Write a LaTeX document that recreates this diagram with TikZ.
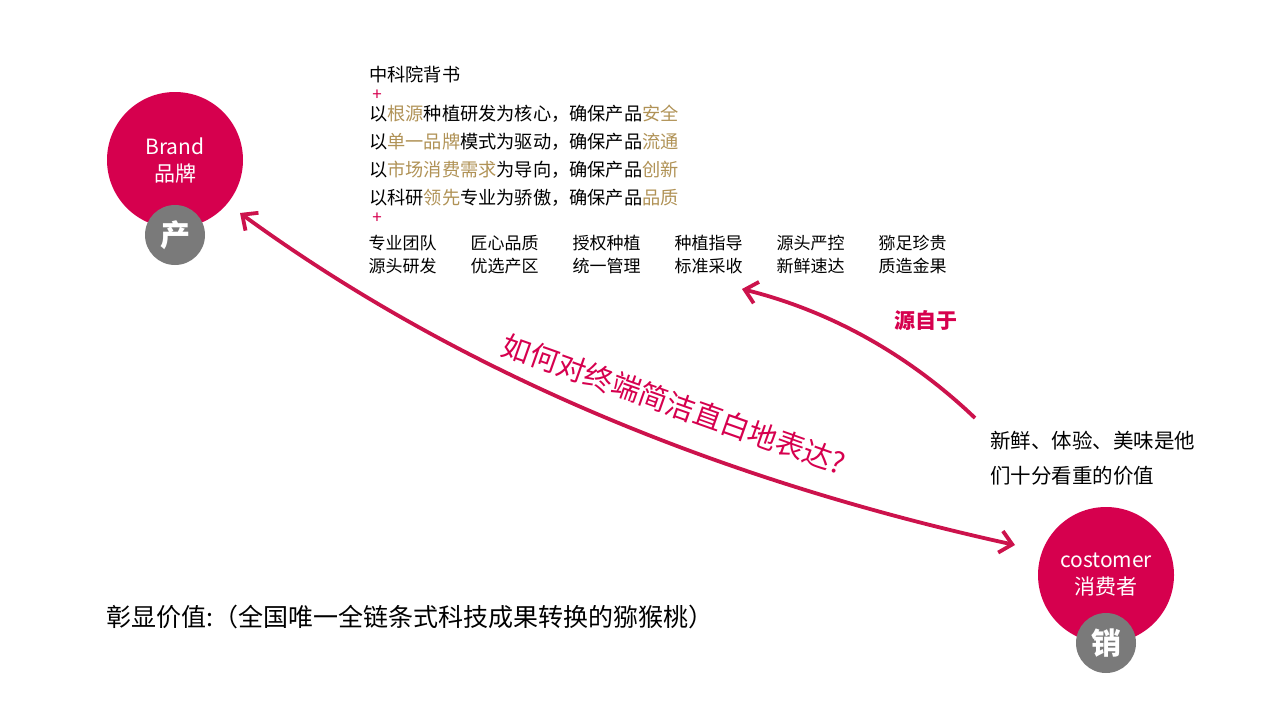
\documentclass[tikz,border=0pt]{standalone}
\usepackage{fontspec}
\setmainfont{Noto Sans CJK SC}
\usetikzlibrary{matrix}
\usetikzlibrary{positioning, arrows.meta}
\definecolor{crimson}{RGB}{214,0,78}
\definecolor{arrowred}{RGB}{204,18,76}
\definecolor{gold}{RGB}{176,146,86}
\definecolor{badge}{RGB}{122,122,122}
\newcommand{\hl}[1]{\textcolor{gold}{#1}}
\tikzset{
	bigdisc/.style={circle, fill=crimson, minimum size=136pt, inner sep=0pt, text=white, align=center, font=\fontsize{21}{27}\selectfont},
	badgedisc/.style={circle, fill=badge, minimum size=60pt, inner sep=0pt, text=white, font=\fontsize{30}{30}\selectfont\bfseries},
	bodyline/.style={anchor=west, inner sep=0pt, font=\fontsize{18.2}{18}\selectfont},
	plusline/.style={anchor=center, inner sep=0pt, text=crimson, font=\fontsize{17}{17}\selectfont},
	flowtip/.tip={Straight Barb[length=12pt,width=22pt]},
	flow/.style={draw=arrowred, line width=3.8pt}
}

\begin{document}
\begin{tikzpicture}[x=1pt, y=-1pt]
		\useasboundingbox (0,0) rectangle (1280,721);
		% circles
		\node[bigdisc] (brand) at (175,160) {Brand\\品牌};
		\node[badgedisc] (prod) at (175,235) {产};
		\node[bigdisc] (cust) at (1106,575) {costomer\\消费者};
		\node[badgedisc] (sell) at (1106,643) {销};
		% text block
		\node[bodyline] (cas) at (369,75) {中科院背书};
		\node[plusline] (plus1) at (377,95) {+};
		\node[bodyline] (l1) at (369,114) {以\hl{根源}种植研发为核心，确保产品\hl{安全}};
		\node[bodyline] (l2) at (369,142) {以\hl{单一品牌}模式为驱动，确保产品\hl{流通}};
		\node[bodyline] (l3) at (369,170) {以\hl{市场消费需求}为导向，确保产品\hl{创新}};
		\node[bodyline] (l4) at (369,198) {以科研\hl{领先}专业为骄傲，确保产品\hl{品质}};
		\node[plusline] (plus2) at (377,218) {+};
		\matrix (grid) [matrix of nodes, anchor=north west, column sep=34pt, row sep=7pt,
			nodes={inner sep=0pt, font=\fontsize{17}{17}\selectfont, text height=13pt, text depth=3pt}] at (365,233) {
			专业团队 & 匠心品质 & 授权种植 & 种植指导 & 源头严控 & 猕足珍贵 \\
			源头研发 & 优选产区 & 统一管理 & 标准采收 & 新鲜速达 & 质造金果 \\
		};
		% labels
		\node[text=crimson, inner sep=0pt, font=\fontsize{21}{21}\selectfont\bfseries] (from) at (926,321) {源自于};
		\node[rotate=-19.5, text=crimson, inner sep=0pt, font=\fontsize{29}{29}\selectfont] (ask) at (674,404) {如何对终端简洁直白地表达?};
		\node[anchor=west, align=left, inner sep=0pt, font=\fontsize{20.5}{35}\selectfont] (value) at (990,458) {新鲜、体验、美味是他\\们十分看重的价值};
		\node[anchor=west, inner sep=0pt, font=\fontsize{25}{25}\selectfont] (show) at (106,617) {彰显价值:（全国唯一全链条式科技成果转换的猕猴桃）};
		% arrows
		\coordinate (brandtip) at (240,213);
		\coordinate (custtip) at (1015,545);
		\coordinate (valuetail) at (975,418);
		\coordinate (gridtip) at (742,289);
		\draw[flow, flowtip-flowtip] (brandtip) .. controls (450,366) and (706,477) .. (custtip);
		\draw[flow, -flowtip] (valuetail) .. controls (908,354) and (830,311) .. (gridtip);
	\end{tikzpicture}
\end{document}
